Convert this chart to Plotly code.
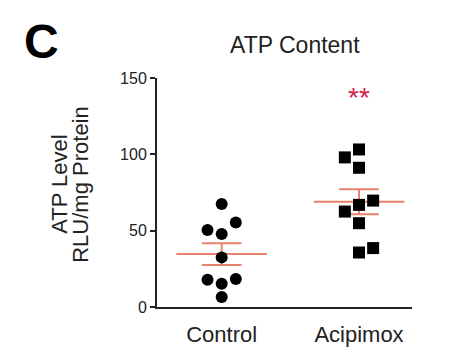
import numpy as np
import plotly.graph_objects as go

categories = ["Control", "Acipimox"]
control_vals = [67.5, 50.5, 55.3, 47.8, 32.5, 17.9, 15.3, 18.4, 6.6]
acipimox_vals = [103.2, 98.0, 91.2, 69.7, 66.9, 62.5, 54.9, 35.7, 38.6]
y_ticks = [0, 50, 100, 150]
signif_text = "**"
signif_level = 140

# column placement of each dot (left/center/right), layout only
control_cols = [0, -1, 1, 0, 0, -1, 0, 1, 0]
acipimox_cols = [0, -1, 0, 1, 0, -1, 0, 0, 1]

JIT = 0.103
MEAN_HW = 0.33
CAP_HW = 0.145
LINE_COL = "#E8826E"

fig = go.Figure()
groups = [(control_vals, control_cols, "circle"), (acipimox_vals, acipimox_cols, "square")]
for i, (vals, cols, sym) in enumerate(groups):
    vals = np.array(vals)
    m = vals.mean()
    sem = vals.std(ddof=1) / np.sqrt(len(vals))
    fig.add_trace(go.Scatter(x=[i - MEAN_HW, i + MEAN_HW], y=[m, m], mode="lines",
                             line=dict(color=LINE_COL, width=2), showlegend=False, hoverinfo="skip"))
    fig.add_trace(go.Scatter(x=[i, i, None, i - CAP_HW, i + CAP_HW, None, i - CAP_HW, i + CAP_HW],
                             y=[m - sem, m + sem, None, m + sem, m + sem, None, m - sem, m - sem],
                             mode="lines", line=dict(color=LINE_COL, width=2),
                             showlegend=False, hoverinfo="skip"))
    fig.add_trace(go.Scatter(x=[i + c * JIT for c in cols], y=vals, mode="markers",
                             marker=dict(symbol=sym, size=12, color="black", line=dict(width=0)),
                             showlegend=False))

fig.add_annotation(x=1, y=signif_level, xref="x", yref="y", text=signif_text, showarrow=False,
                   font=dict(size=28, color="#D0234C", family="Arial"),
                   xanchor="center", yanchor="middle", yshift=-4)

PW, PH = 255.0, 229.5
def px(x):
    return (x - 157) / PW
def py(y):
    return (307.5 - y) / PH

for txt, xc in [("ATP Level", 60), ("RLU/mg Protein", 81)]:
    fig.add_annotation(x=px(xc), y=py(185), xref="paper", yref="paper", text=txt,
                       textangle=-90, showarrow=False, xanchor="center", yanchor="middle",
                       font=dict(size=22, color="#222", family="Arial"))
fig.add_annotation(x=px(295), y=py(45), xref="paper", yref="paper",
                   text="ATP Content", showarrow=False, xanchor="center", yanchor="middle",
                   font=dict(size=23, color="#222", family="Arial"))
fig.add_annotation(x=px(41), y=py(41), xref="paper", yref="paper",
                   text="<b>C</b>", showarrow=False, xanchor="center", yanchor="middle",
                   font=dict(size=48, color="black", family="Arial"))

fig.update_layout(
    width=450, height=354,
    margin=dict(l=157, r=38, t=78, b=46.5),
    paper_bgcolor="white", plot_bgcolor="white",
    font=dict(family="Arial", color="#222"),
    xaxis=dict(range=[-0.471, 1.386], tickvals=[0, 1], ticktext=categories, automargin=False,
               showgrid=False, zeroline=False, showline=True, linecolor="#222", linewidth=2,
               ticks="", ticklabelstandoff=7, tickfont=dict(size=22, color="#222")),
    yaxis=dict(range=[0, 150], tickvals=y_ticks, showgrid=False, zeroline=False, automargin=False,
               showline=True, linecolor="#222", linewidth=2, ticks="outside", ticklen=5,
               tickwidth=2, tickcolor="#222", tickfont=dict(size=16, color="#222")),
)

fig.write_html("out.html")
